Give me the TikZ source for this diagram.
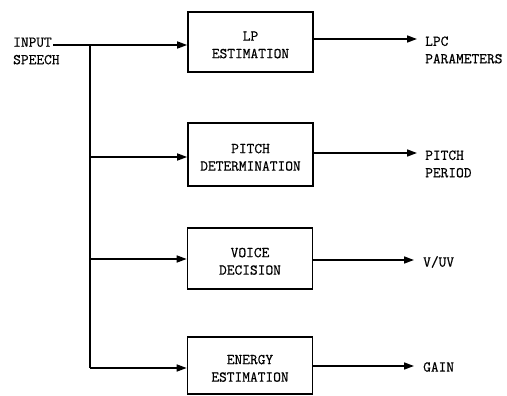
\documentclass[tikz,border=0pt]{standalone}
\usepackage{fontspec}
\newfontfamily\typewr{Latin Modern Mono}[FakeBold=0.6]
\usetikzlibrary{arrows.meta}
% raises the top of a block's first line so its two lines sit a little low
\newcommand{\toplift}{\rule{0pt}{15pt}}
\begin{document}
\begin{tikzpicture}[x=1pt,y=-1pt,
  every node/.style={font=\typewr\fontsize{15}{17.5}\selectfont},
  block/.style={draw,line width=1.6pt,minimum width=125pt,inner sep=0pt,align=center},
  label/.style={inner sep=0pt,align=left},
  wire/.style={line width=1.6pt},
  arr/.style={wire,-{Triangle[length=10pt,width=7pt]}}]
\useasboundingbox (0,0) rectangle (507,396);

% processing blocks
\node[block,minimum height=60pt] (b1) at (250.5,42)  {\toplift LP\\ESTIMATION};
\node[block,minimum height=63pt] (b2) at (250.5,154.5) {\toplift PITCH\\DETERMINATION};
\node[block,minimum height=61pt] (b3) at (250,258.5) {\toplift VOICE\\DECISION};
\node[block,minimum height=57pt] (b4) at (250,365.5) {\toplift ENERGY\\ESTIMATION};

% input label and distribution trunk
\node[label,anchor=west] (inp) at (13,51) {INPUT\\SPEECH};
\coordinate (s)  at (53,45);
\coordinate (j1) at (90,45);
\coordinate (j2) at (90,157);
\coordinate (j3) at (90,259);
\coordinate (j4) at (90,368);
\draw[arr] (s) -- (s -| b1.west);
\draw[wire] (j1) -- (j4);
\draw[arr] (j2) -- (j2 -| b2.west);
\draw[arr] (j3) -- (j3 -| b3.west);
\draw[arr] (j4) -- (j4 -| b4.west);

% outputs
\node[label,anchor=west] (o1t) at (425,50)  {LPC\\PARAMETERS};
\node[label,anchor=west] (o2t) at (425,164) {PITCH\\PERIOD};
\node[label,anchor=west] (o3t) at (423,262) {V/UV};
\node[label,anchor=west] (o4t) at (423,367) {GAIN};
\coordinate (o1) at (417,39);
\coordinate (o2) at (417,153);
\coordinate (o3) at (414,260);
\coordinate (o4) at (414,366);
\draw[arr] (o1 -| b1.east) -- (o1);
\draw[arr] (o2 -| b2.east) -- (o2);
\draw[arr] (o3 -| b3.east) -- (o3);
\draw[arr] (o4 -| b4.east) -- (o4);
\end{tikzpicture}
\end{document}
